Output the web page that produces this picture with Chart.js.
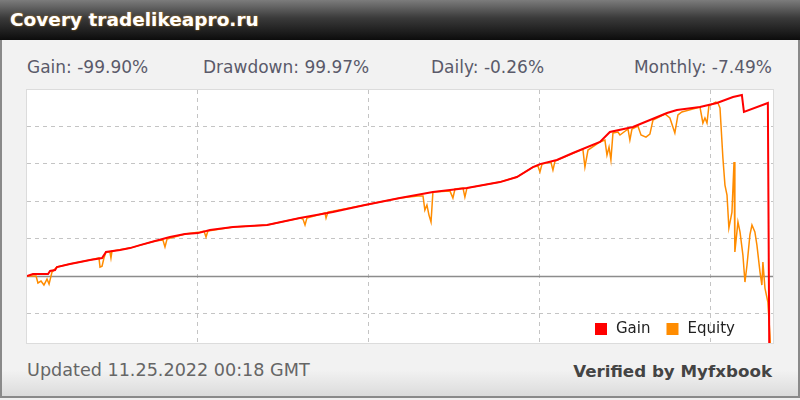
<!DOCTYPE html>
<html>
<head>
<meta charset="utf-8">
<script src="https://cdn.jsdelivr.net/npm/chart.js@4"></script>
<style>
  html, body { margin: 0; padding: 0; }
  body { width: 800px; height: 400px; position: relative; overflow: hidden; background: #f0f0f0; font-family: "DejaVu Sans", Verdana, sans-serif; }
  #frame { position: absolute; left: 0; top: 0; width: 796px; height: 396px; border: 2px solid #8a8a8a; border-top: none; background: linear-gradient(#f2f2f2 0, #f2f2f2 370px, #d8d8d8 400px); }
  #head { position: absolute; left: 0; top: 0; width: 800px; height: 40px; background: linear-gradient(#7c7c7c, #3a3a3a 45%, #0c0c0c); }
  #head span { position: absolute; left: 10px; top: 9px; color: #fff; font-weight: bold; font-size: 18.5px; text-shadow: 0 0 2px #c08020; }
  .stat { position: absolute; top: 57px; color: #5a5a6a; font-size: 17px; }
  #plot { position: absolute; left: 26px; top: 89px; width: 746px; height: 253px; border: 1px solid #dcdcdc; background: #fff; }
  #foot { position: absolute; left: 27px; top: 360px; color: #666; font-size: 17.6px; }
  #verified { position: absolute; right: 28px; top: 361px; color: #444; font-size: 16.7px; font-weight: bold; }
</style>
</head>
<body>
<div id="frame"></div>
<div id="head"><span>Covery tradelikeapro.ru</span></div>
<span class="stat" style="left:27px">Gain: -99.90%</span>
<span class="stat" style="left:203px">Drawdown: 99.97%</span>
<span class="stat" style="left:431px">Daily: -0.26%</span>
<span class="stat" style="right:28px">Monthly: -7.49%</span>
<div id="plot"><canvas id="grafico" width="746" height="253"></canvas></div>
<div id="foot">Updated 11.25.2022 00:18 GMT</div>
<div id="verified">Verified by Myfxbook</div>
<script>
var SERIES = ['Gain', 'Equity'];
var Cores = { 'vermelho': '#ff0000', 'laranja': '#ff8c00' };

// Gain (%) over time
var gainX = [0, 3.5, 12.3, 13.5, 16.4, 17.5, 25.1, 31.0, 36.8, 43.9, 46.2, 54.4, 60.2, 66.1, 74.9, 83.6, 92.4, 100, 107, 120.5,
  140.4, 159.6, 178.9, 197.7, 218.1, 237.4, 257.3, 276.6, 286.5, 295.9, 300, 309.9, 319.3, 335.1, 340.9, 354.4, 374.3, 380.1,
  393.6, 403.5, 412.9, 418.1, 419.3, 433.3, 434.5];
var gainY = [0, 1.1, 1.1, 2.7, 3.2, 4.8, 6.4, 7.5, 8.5, 9.6, 12.8, 13.9, 14.9, 16.5, 18.7, 20.8, 22.4, 22.9, 24.5, 26.1,
  27.2, 30.9, 34.1, 37.9, 41.6, 44.8, 46.9, 50.1, 52.8, 58.1, 59.7, 61.9, 65.6, 71.5, 76.8, 79.5, 86.9, 88.5,
  90.1, 92.3, 95.5, 96.5, 87.5, 92.3, -99.9];

// Equity (%) over time
var equityX = [0, 5.3, 6.4, 8.2, 9.9, 11.7, 12.9, 14.6, 17.5, 25.1, 36.8, 42.1, 42.7, 43.9, 45.0, 46.2, 48.5, 49.1, 49.7, 60.2,
  74.9, 79.5, 80.7, 81.9, 92.4, 101.2, 103.5, 104.7, 105.8, 120.5, 140.4, 159.6, 161.4, 162.6, 163.7, 174.3, 174.9, 176.0,
  197.7, 218.1, 228.7, 231.6, 232.7, 233.9, 235.1, 236.3, 237.4, 247.4, 249.1, 250.3, 255.0, 256.1, 257.3, 276.6, 286.5,
  295.9, 298.8, 300.0, 301.2, 306.4, 307.6, 308.8, 325.1, 326.3, 328.1, 335.1, 338.0, 339.2, 340.4, 341.5, 342.7, 345.6,
  346.8, 351.5, 352.6, 353.8, 357.3, 359.1, 362.0, 364.3, 366.1, 373.1, 376.0, 378.9, 380.7, 383.0, 393.6, 395.3, 396.5,
  397.7, 398.8, 402.9, 404.1, 405.3, 407.0, 408.2, 409.4, 410.5, 412.3, 413.5, 414.0, 415.8, 417.0, 418.7, 419.9, 421.1,
  422.8, 424.0, 425.7, 426.9, 428.7, 429.8, 430.4, 431.6, 433.3, 434.5, 435.1];
var equityY = [0, 0, -3.7, -2.7, -4.8, -1.6, -4.3, 2.1, 4.8, 6.4, 8.5, 9.6, 4.8, 5.3, 9.6, 12.8, 12.8, 9.6, 13.3, 14.9,
  18.7, 19.2, 15.5, 19.7, 22.4, 23.5, 24.0, 20.8, 24.0, 26.1, 27.2, 30.9, 30.4, 27.2, 30.9, 33.6, 30.9, 34.1,
  37.9, 41.6, 42.7, 42.7, 35.2, 37.9, 32.5, 28.8, 44.8, 45.3, 41.6, 46.4, 46.9, 42.1, 46.9, 50.1, 52.8,
  58.1, 58.7, 55.5, 59.7, 60.8, 56.5, 61.3, 67.7, 58.1, 67.2, 71.5, 72.5, 64.5, 68.8, 61.9, 76.3, 76.8,
  75.2, 78.4, 72.5, 78.4, 80.0, 75.2, 74.1, 75.7, 83.2, 86.4, 84.3, 76.3, 85.9, 87.5, 90.1, 81.6, 84.3,
  81.6, 90.7, 92.8, 92.3, 89.6, 62.9, 48.5, 43.2, 25.6, 34.1, 60.8, 12.8, 28.8, 23.5, 11.2, -3.2, 5.9,
  21.9, 27.2, 23.5, 16.5, 2.1, -4.8, 7.5, -6.4, -13.9, -31.5, -45];

var ChartFactory = function () {
    var self = this;
    self.pontos = function (xs, ys) {
        return xs.map(function (x, i) { return { x: x, y: ys[i] }; });
    };
    // linha do zero (solida) e legenda dentro da area do grafico
    self.extras = {
        id: 'extras',
        beforeDatasetsDraw: function (chart) {
            var c = chart.ctx, a = chart.chartArea, y0 = chart.scales.y.getPixelForValue(0);
            c.save();
            c.strokeStyle = '#8c8c8c';
            c.lineWidth = 1.5;
            c.beginPath();
            c.moveTo(a.left, Math.round(y0) + 0.5);
            c.lineTo(a.right, Math.round(y0) + 0.5);
            c.stroke();
            c.restore();
        },
        afterDraw: function (chart) {
            var c = chart.ctx, a = chart.chartArea;
            var x = a.right - 178, y = a.bottom - 14;
            c.save();
            c.font = '15px "DejaVu Sans", sans-serif';
            c.textBaseline = 'middle';
            chart.data.datasets.forEach(function (ds) {
                c.fillStyle = ds.borderColor;
                c.fillRect(x, y - 6, 12, 12);
                c.fillStyle = '#222';
                c.fillText(ds.label, x + 21, y);
                x += 21 + c.measureText(ds.label).width + 16;
            });
            c.restore();
        }
    };
    self.gerar = function (canvas) {
        var ctx = canvas.getContext('2d');
        window.RLGrafico = new Chart(ctx, {
            type: 'line',
            data: {
                datasets: [{
                    label: SERIES[0],
                    data: self.pontos(gainX, gainY),
                    borderColor: Cores.vermelho,
                    backgroundColor: Cores.vermelho,
                    borderWidth: 2,
                    pointRadius: 0,
                    tension: 0
                }, {
                    label: SERIES[1],
                    data: self.pontos(equityX, equityY),
                    borderColor: Cores.laranja,
                    backgroundColor: Cores.laranja,
                    borderWidth: 1.5,
                    pointRadius: 0,
                    tension: 0
                }]
            },
            options: {
                responsive: false,
                animation: false,
                layout: { padding: 0 },
                plugins: { legend: { display: false }, tooltip: { enabled: false } },
                scales: {
                    x: {
                        type: 'linear', min: 0, max: 436.3,
                        ticks: { display: false, stepSize: 100 },
                        afterBuildTicks: function (s) { s.ticks = s.ticks.filter(function (t) { return t.value > 0 && t.value < 436 && t.value % 100 === 0; }); },
                        grid: { color: '#c4c4c4', drawTicks: false },
                        border: { display: false, dash: [4, 4] }
                    },
                    y: {
                        min: -35.7, max: 99.2,
                        ticks: { display: false, stepSize: 20 },
                        afterBuildTicks: function (s) { s.ticks = s.ticks.filter(function (t) { return t.value > -35 && t.value < 99 && t.value % 20 === 0; }); },
                        grid: { color: '#c4c4c4', drawTicks: false },
                        border: { display: false, dash: [4, 4] }
                    }
                }
            },
            plugins: [self.extras]
        });
    };
};
new ChartFactory().gerar(document.getElementById('grafico'));
</script>
</body>
</html>
